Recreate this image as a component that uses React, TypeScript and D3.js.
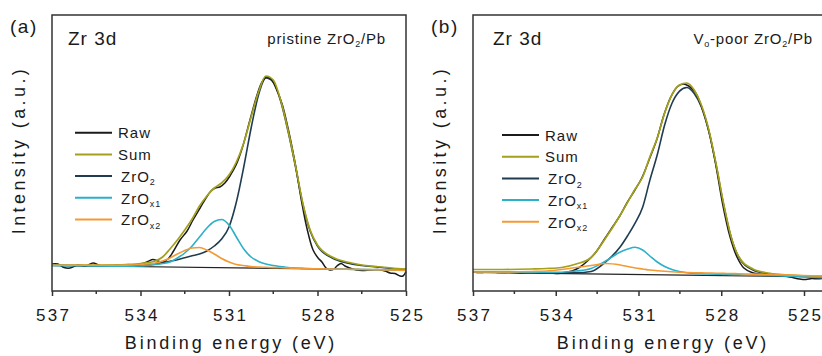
import React, { useEffect, useRef } from 'react';
import * as d3 from 'd3';

const W = 822;
const H = 356;
const PW = 354; // panel frame width
const PH = 276; // panel frame height
const FONT = '"Liberation Sans", Arial, Helvetica, sans-serif';

const majorTicks = [537, 534, 531, 528, 525];
const minorTicks = [535.5, 532.5, 529.5, 526.5];

const colors = {
  raw: '#1b1b1b',
  sum: '#a3a11c',
  zro2: '#1f3c50',
  zrox1: '#2bb0c8',
  zrox2: '#f39a35',
};

// ---------- (a) pristine ZrO2/Pb ----------
const fitEnergyA = [537, 536, 535, 534.5, 534, 533.5, 533.25, 533, 532.75, 532.5, 532.25, 532, 531.75, 531.5, 531.25, 531, 530.75, 530.5, 530.25, 530, 529.75, 529.5, 529.25, 529, 528.75, 528.5, 528.25, 528, 527.5, 527, 526.5, 526, 525.5, 525];
const sumA = [260, 260, 260, 265, 275, 300, 340, 420, 510, 610, 720, 850, 950, 1030, 1080, 1160, 1290, 1480, 1740, 1990, 2150, 2110, 1910, 1610, 1260, 880, 610, 460, 340, 290, 260, 245, 230, 220];
const zro2A = [256, 253, 251, 252, 260, 272, 283, 298, 313, 333, 352, 370, 400, 450, 520, 640, 890, 1240, 1630, 1960, 2130, 2090, 1900, 1600, 1250, 870, 600, 450, 330, 280, 255, 240, 225, 215];
const zrox1A = [256, 252, 249, 248, 250, 265, 275, 290, 330, 380, 450, 540, 630, 695, 715, 660, 540, 420, 340, 295, 270, 255, 245, 235, 230, 226, 223, 221, 219, 217, 215, 213, 211, 210];
const zrox2A = [258, 258, 258, 259, 265, 280, 300, 330, 370, 405, 430, 435, 410, 370, 325, 290, 265, 255, 245, 240, 237, 234, 232, 230, 228, 226, 224, 222, 219, 217, 215, 212, 210, 205];
const rawEnergyA = [537.0, 536.8, 536.59, 536.39, 536.12, 535.85, 535.61, 535.37, 535.03, 534.69, 534.36, 534.02, 533.75, 533.58, 533.41, 533.24, 533.07, 532.9, 532.66, 532.42, 532.22, 531.98, 531.78, 531.61, 531.47, 531.31, 531.14, 530.97, 530.76, 530.53, 530.29, 530.05, 529.88, 529.73, 529.58, 529.41, 529.2, 529.0, 528.76, 528.53, 528.36, 528.15, 527.98, 527.85, 527.71, 527.58, 527.44, 527.34, 527.2, 527.07, 526.9, 526.69, 526.49, 526.22, 525.95, 525.71, 525.54, 525.37, 525.2, 525.1, 525.0];
const rawA = [270, 270, 235, 230, 260, 250, 280, 255, 255, 260, 260, 265, 295, 315, 300, 290, 320, 390, 510, 600, 710, 830, 930, 1000, 1030, 1040, 1080, 1150, 1260, 1450, 1710, 1960, 2090, 2140, 2120, 2030, 1870, 1630, 1280, 880, 630, 410, 330, 290, 230, 210, 220, 250, 275, 250, 230, 210, 205, 210, 215, 200, 180, 175, 150, 150, 195];
const bgEnergyA = [537, 525];
const bgA = [255, 210];

// ---------- (b) Vo-poor ZrO2/Pb (axis runs a little past 525, cut by the figure edge) ----------
const fitEnergyB = [537, 535.93, 534.86, 534.33, 533.79, 533.26, 532.72, 532.19, 531.66, 531.39, 531.12, 530.85, 530.59, 530.32, 530.05, 529.79, 529.52, 529.25, 528.98, 528.72, 528.45, 528.18, 527.92, 527.65, 527.38, 526.85, 526.31, 525.78, 525.24, 524.71, 524.17];
const sumB = [215, 215, 220, 225, 235, 270, 335, 530, 760, 890, 1020, 1140, 1340, 1530, 1780, 1960, 2060, 2080, 2010, 1860, 1610, 1260, 880, 550, 350, 220, 180, 165, 155, 147, 140];
const zro2B = [190, 188, 184, 182, 183, 182, 195, 291, 442, 555, 681, 838, 1106, 1362, 1662, 1875, 1996, 2035, 1975, 1840, 1595, 1250, 870, 545, 345, 210, 172, 158, 150, 143, 138];
const zrox1B = [190, 188, 186, 186, 188, 200, 225, 300, 390, 420, 437, 410, 350, 290, 245, 215, 195, 183, 175, 172, 170, 168, 166, 164, 162, 158, 155, 150, 145, 138, 130];
const zrox2B = [190, 190, 195, 200, 215, 235, 255, 275, 260, 245, 230, 220, 210, 203, 197, 192, 188, 185, 183, 181, 180, 178, 176, 175, 172, 169, 165, 161, 157, 153, 150];
const rawEnergyB = [537.0, 536.74, 536.38, 536.02, 535.66, 535.3, 534.94, 534.57, 534.21, 533.92, 533.67, 533.41, 533.12, 532.83, 532.54, 532.22, 531.92, 531.68, 531.42, 531.13, 530.88, 530.59, 530.33, 530.08, 529.83, 529.6, 529.39, 529.18, 528.95, 528.71, 528.45, 528.19, 527.95, 527.69, 527.43, 527.18, 526.89, 526.6, 526.24, 525.87, 525.51, 525.16, 524.93, 524.72, 524.51, 524.17];
const rawB = [190, 185, 192, 184, 188, 180, 185, 178, 182, 175, 185, 200, 240, 305, 390, 525, 650, 750, 880, 1010, 1130, 1330, 1520, 1760, 1940, 2040, 2070, 2050, 1990, 1840, 1600, 1250, 870, 550, 340, 230, 185, 170, 160, 155, 140, 120, 115, 125, 122, 130];
const bgEnergyB = [537, 524.17];
const bgB = [185, 140];

type Pt = [number, number];
const pts = (E: number[], V: number[]): Pt[] => E.map((e, i) => [e, V[i]] as Pt);

const legendItems = [
  { key: 'raw', main: 'Raw', sub: '' },
  { key: 'sum', main: 'Sum', sub: '' },
  { key: 'zro2', main: 'ZrO', sub: '2' },
  { key: 'zrox1', main: 'ZrO', sub: 'x1' },
  { key: 'zrox2', main: 'ZrO', sub: 'x2' },
];

type PanelProps = {
  left: number;
  axisW: number;
  tag: string;
  titleX: number;
  note: React.ReactNode;
  legendX: number;
  legendY: number;
  fitE: number[];
  sum: number[];
  zro2: number[];
  zrox1: number[];
  zrox2: number[];
  rawE: number[];
  raw: number[];
  bgE: number[];
  bg: number[];
};

const Panel = (p: PanelProps) => {
  const axisRef = useRef<SVGGElement>(null);
  const x = d3.scaleLinear().domain([537, 525]).range([0, p.axisW]);
  const y = d3.scaleLinear().domain([0, 2760]).range([PH, 0]);

  useEffect(() => {
    const g = d3.select(axisRef.current);
    g.selectAll('*').remove();
    g.call(
      d3.axisBottom(x).tickValues(majorTicks).tickSize(5).tickPadding(12.5).tickFormat(d3.format('d')) as any
    );
    g.select('.domain').remove();
    g.selectAll('.tick line').attr('stroke', '#333').attr('stroke-width', 1.5);
    g.selectAll('.tick text')
      .attr('font-size', 17)
      .attr('font-family', FONT)
      .attr('fill', '#1a1a1a')
      .attr('letter-spacing', 2.3)
      .attr('dx', 1.2);
    g.selectAll('line.minor')
      .data(minorTicks)
      .join('line')
      .attr('class', 'minor')
      .attr('x1', (d) => x(d))
      .attr('x2', (d) => x(d))
      .attr('y1', 0)
      .attr('y2', 3)
      .attr('stroke', '#333')
      .attr('stroke-width', 1.5);
  }, []);

  const fitLine = d3.line<Pt>().x((d) => x(d[0])).y((d) => y(d[1])).curve(d3.curveMonotoneX);
  const rawLine = d3.line<Pt>().x((d) => x(d[0])).y((d) => y(d[1])).curve(d3.curveCatmullRom.alpha(0.5));
  const straight = d3.line<Pt>().x((d) => x(d[0])).y((d) => y(d[1]));

  return (
    <g transform={`translate(${p.left},15)`} fontFamily={FONT}>
      <text x={-42} y={18} fontSize={19} letterSpacing={1.5} fill="#1a1a1a">{p.tag}</text>
      <text
        transform={`translate(-27,${PH / 2 - 3}) rotate(-90)`}
        textAnchor="middle"
        fontSize={18}
        letterSpacing={3.4}
        fill="#1a1a1a"
      >
        Intensity (a.u.)
      </text>
      <text x={p.axisW === PW ? PW / 2 + 2 : 190} y={334} textAnchor="middle" fontSize={18} letterSpacing={2.8} fill="#1a1a1a">
        Binding energy (eV)
      </text>

      <path d={straight(pts(p.bgE, p.bg)) || ''} fill="none" stroke="#222" strokeWidth={1.2} />
      <path d={fitLine(pts(p.fitE, p.zro2)) || ''} fill="none" stroke={colors.zro2} strokeWidth={1.6} />
      <path d={rawLine(pts(p.rawE, p.raw)) || ''} fill="none" stroke={colors.raw} strokeWidth={1.5} />
      <path d={fitLine(pts(p.fitE, p.sum)) || ''} fill="none" stroke={colors.sum} strokeWidth={1.7} />
      <path d={fitLine(pts(p.fitE, p.zrox1)) || ''} fill="none" stroke={colors.zrox1} strokeWidth={1.6} />
      <path d={fitLine(pts(p.fitE, p.zrox2)) || ''} fill="none" stroke={colors.zrox2} strokeWidth={1.6} />

      <rect x={0} y={0} width={PW} height={PH} fill="none" stroke="#333" strokeWidth={1.5} />
      <g ref={axisRef} transform={`translate(0,${PH})`} />

      <text x={p.titleX} y={30} fontSize={19} letterSpacing={1} fill="#1a1a1a">Zr 3d</text>
      {p.note}

      {legendItems.map((it, i) => {
        const ly = p.legendY + i * 21.7;
        return (
          <g key={it.key}>
            <line
              x1={p.legendX}
              x2={p.legendX + 37}
              y1={ly}
              y2={ly}
              stroke={(colors as any)[it.key]}
              strokeWidth={2}
            />
            <text
              x={p.legendX + 43 + (it.sub ? 3 : 0)}
              y={ly + 5.7}
              fontSize={15}
              letterSpacing={1}
              fill="#1a1a1a"
            >
              {it.main}
              {it.sub && (
                <tspan fontSize={9} dy={3.5}>{it.sub}</tspan>
              )}
            </text>
          </g>
        );
      })}
    </g>
  );
};

const NoteA = (
  <text x={334} y={29} textAnchor="end" fontSize={15} letterSpacing={0.8} fill="#1a1a1a" fontFamily={FONT}>
    pristine ZrO<tspan fontSize={9} dy={3}>2</tspan>
    <tspan dy={-3}>/Pb</tspan>
  </text>
);

const NoteB = (
  <text x={340} y={29} textAnchor="end" fontSize={15} letterSpacing={0.8} fill="#1a1a1a" fontFamily={FONT}>
    V<tspan fontSize={9} dy={3}>o</tspan>
    <tspan dy={-3}>-poor ZrO</tspan>
    <tspan fontSize={9} dy={3}>2</tspan>
    <tspan dy={-3}>/Pb</tspan>
  </text>
);

export default function App() {
  return (
    <svg
      width={W}
      height={H}
      viewBox={`0 0 ${W} ${H}`}
      style={{ position: 'absolute', left: 0, top: 0, background: '#fff' }}
    >
      <rect width={W} height={H} fill="#fff" />
      <Panel
        left={52}
        axisW={PW}
        tag="(a)"
        titleX={16}
        note={NoteA}
        legendX={23}
        legendY={117.7}
        fitE={fitEnergyA}
        sum={sumA}
        zro2={zro2A}
        zrox1={zrox1A}
        zrox2={zrox2A}
        rawE={rawEnergyA}
        raw={rawA}
        bgE={bgEnergyA}
        bg={bgA}
      />
      <Panel
        left={473}
        axisW={331}
        tag="(b)"
        titleX={20}
        note={NoteB}
        legendX={29}
        legendY={120}
        fitE={fitEnergyB}
        sum={sumB}
        zro2={zro2B}
        zrox1={zrox1B}
        zrox2={zrox2B}
        rawE={rawEnergyB}
        raw={rawB}
        bgE={bgEnergyB}
        bg={bgB}
      />
    </svg>
  );
}
